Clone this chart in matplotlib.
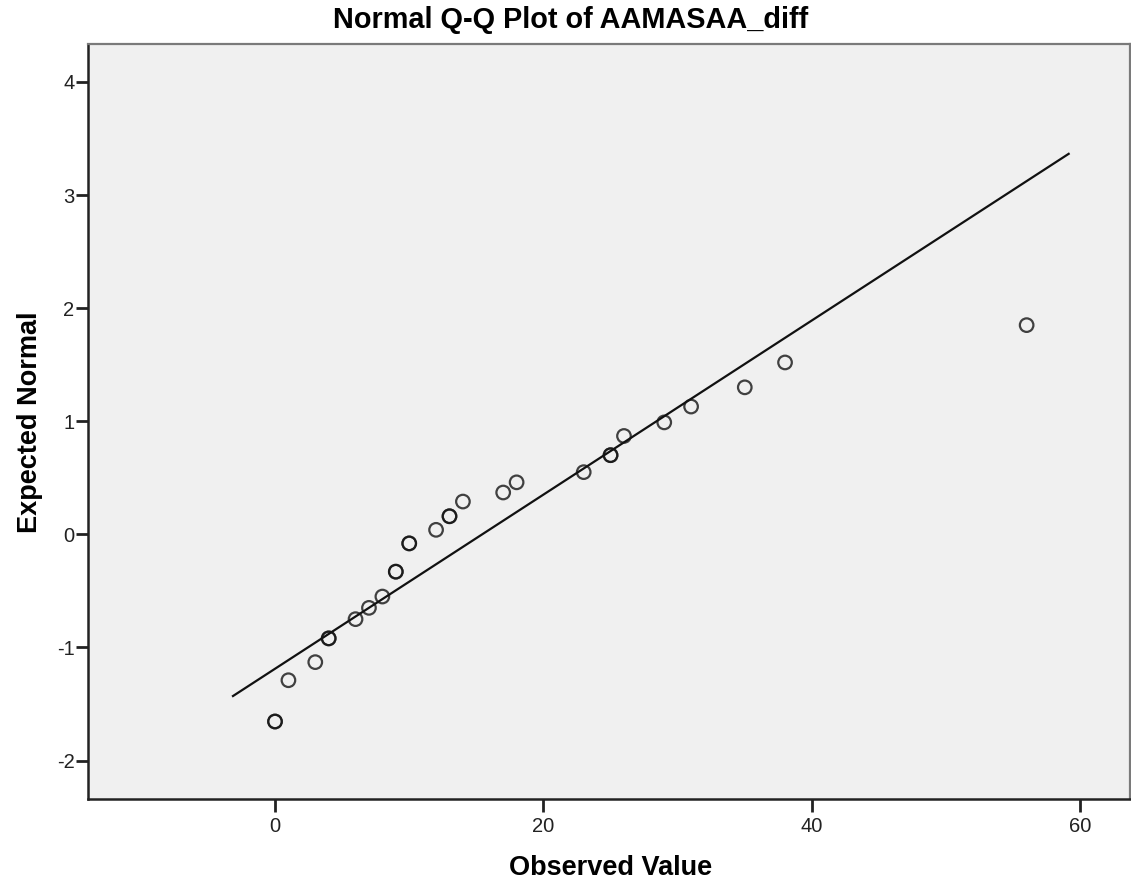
# Normal Q-Q plot (SPSS style) of AAMASAA_diff
import matplotlib
matplotlib.use('Agg')
import matplotlib.pyplot as plt

# ----------------------------------------------------------
# data
# ----------------------------------------------------------
# observed values, tied values repeated (drawn twice -> darker ring)
observed = [0, 0, 1, 3, 4, 4, 6, 7, 8, 9, 9, 10, 10, 12, 13, 13, 14,
            17, 18, 23, 25, 25, 26, 29, 31, 35, 38, 56]
expected = [-1.655, -1.655, -1.29, -1.13, -0.92, -0.92, -0.75, -0.65, -0.55,
            -0.33, -0.33, -0.08, -0.08, 0.04, 0.16, 0.16, 0.29,
            0.37, 0.46, 0.55, 0.70, 0.70, 0.87, 0.99, 1.13, 1.30, 1.52, 1.85]

# reference line end points
line_x = [-3.2, 59.2]
line_y = [-1.435, 3.37]

x_ticks = [0, 20, 40, 60]
y_ticks = [-2, -1, 0, 1, 2, 3, 4]

title = 'Normal Q-Q Plot of AAMASAA_diff'
xlabel = 'Observed Value'
ylabel = 'Expected Normal'

# ----------------------------------------------------------
# plot
# ----------------------------------------------------------
plt.rcParams['font.family'] = ['Liberation Sans', 'DejaVu Sans']
plt.rcParams['axes.unicode_minus'] = False

fig = plt.figure(figsize=(11.31, 8.85), dpi=100)
ax = fig.add_axes([0.0782, 0.0972, 0.9209, 0.8536])
ax.set_facecolor('#f0f0f0')

ax.plot(line_x, line_y, color='#111111', lw=1.6, solid_capstyle='butt', zorder=2)
ax.scatter(observed, expected, s=95, facecolors='none',
           edgecolors=(0.08, 0.08, 0.08, 0.8), linewidths=1.6, zorder=3)

ax.set_xlim(-13.9, 63.7)
ax.set_ylim(-2.34, 4.34)
ax.set_xticks(x_ticks)
ax.set_yticks(y_ticks)
ax.tick_params(direction='out', length=9, width=2, color='#222222',
               labelsize=14.5, labelcolor='#222222')
ax.tick_params(axis='x', pad=4)
ax.tick_params(axis='y', pad=1)

for s in ['left', 'bottom']:
    ax.spines[s].set_color('#222222')
    ax.spines[s].set_linewidth(1.8)
for s in ['top', 'right']:
    ax.spines[s].set_color('#7a7a7a')
    ax.spines[s].set_linewidth(1.6)

fig.text(0.5045, 1 - 20 / 885, title, ha='center', va='center',
         fontsize=20.8, fontweight='bold')
fig.text(611 / 1131, 1 - 868 / 885, xlabel, ha='center', va='center',
         fontsize=19.5, fontweight='bold')
fig.text(30 / 1131, 1 - 422 / 885, ylabel, ha='center', va='center',
         rotation=90, fontsize=19.5, fontweight='bold')

plt.savefig('out.png', dpi=100)
plt.close()
